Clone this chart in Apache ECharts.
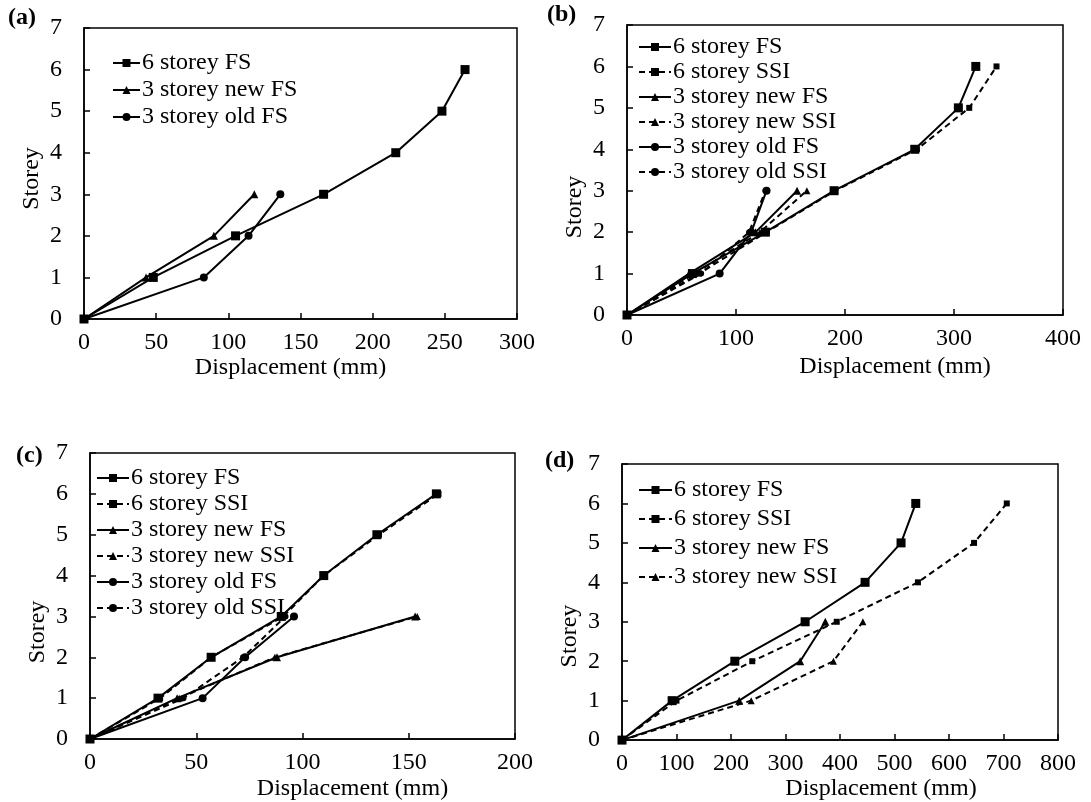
<!DOCTYPE html>
<html>
<head>
<meta charset="utf-8">
<script src="https://cdn.jsdelivr.net/npm/echarts@6/dist/echarts.min.js"></script>
<style>
html,body{margin:0;padding:0;background:#fff;}
#chart{width:1091px;height:802px;}
</style>
</head>
<body>
<div id="chart"></div>
<script>
// ---- data (displacement in mm at each storey level) ----
const storeys6 = [0, 1, 2, 3, 4, 5, 6];
const storeys3 = [0, 1, 2, 3];
const yTicks = [0, 1, 2, 3, 4, 5, 6, 7];

const panelLabels = ['(a)', '(b)', '(c)', '(d)'];
const xAxisTitle = 'Displacement (mm)';
const yAxisTitle = 'Storey';

const a_6FS = [0, 48, 105, 166, 216, 248, 264];
const a_3newFS = [0, 43, 90, 118];
const a_3oldFS = [0, 83, 114, 136];

const b_6FS = [0, 60, 127, 190, 264, 304, 320];
const b_6SSI = [0, 66, 128, 191, 266, 314, 339];
const b_3newFS = [0, 57, 118, 156];
const b_3newSSI = [0, 62, 122, 165];
const b_3oldFS = [0, 85, 114, 128];
const b_3oldSSI = [0, 68, 112, 127];

const c_6FS = [0, 32, 57, 90, 110, 135, 163];
const c_6SSI = [0, 33, 57, 91, 110, 136, 164];
const c_3newFS = [0, 41, 88, 153];
const c_3newSSI = [0, 42, 87, 154];
const c_3oldFS = [0, 53, 73, 96];
const c_3oldSSI = [0, 44, 72, 92];

const d_6FS = [0, 92, 207, 336, 446, 512, 539];
const d_6SSI = [0, 100, 239, 394, 543, 646, 706];
const d_3newFS = [0, 215, 327, 373];
const d_3newSSI = [0, 237, 388, 442];

const xMax = [300, 400, 200, 800];
const xInterval = [50, 100, 50, 100];

// ---- series styling ----
const FONT = '"Liberation Serif", "Times New Roman", serif';
const names = {
  s6FS: '6 storey FS', s6SSI: '6 storey SSI',
  newFS: '3 storey new FS', newSSI: '3 storey new SSI',
  oldFS: '3 storey old FS', oldSSI: '3 storey old SSI'
};
const styles = {
  s6FS: {symbol: 'rect', size: 9, dash: 'solid'},
  s6SSI: {symbol: 'rect', size: 6, dash: [6, 4]},
  newFS: {symbol: 'triangle', size: 8, dash: 'solid'},
  newSSI: {symbol: 'triangle', size: 7, dash: [6, 4]},
  oldFS: {symbol: 'circle', size: 8, dash: 'solid'},
  oldSSI: {symbol: 'circle', size: 6, dash: [6, 4]}
};

function mk(key, xs, ys, idx) {
  const st = styles[key];
  return {
    name: names[key], type: 'line', xAxisIndex: idx, yAxisIndex: idx,
    data: xs.map((x, i) => [x, ys[i]]),
    symbol: st.symbol, symbolSize: st.size, clip: false,
    itemStyle: {color: '#000'},
    lineStyle: {color: '#000', width: 2, type: st.dash},
    animation: false
  };
}

const series = [
  mk('s6FS', a_6FS, storeys6, 0),
  mk('newFS', a_3newFS, storeys3, 0),
  mk('oldFS', a_3oldFS, storeys3, 0),

  mk('s6FS', b_6FS, storeys6, 1),
  mk('s6SSI', b_6SSI, storeys6, 1),
  mk('newFS', b_3newFS, storeys3, 1),
  mk('newSSI', b_3newSSI, storeys3, 1),
  mk('oldFS', b_3oldFS, storeys3, 1),
  mk('oldSSI', b_3oldSSI, storeys3, 1),

  mk('s6FS', c_6FS, storeys6, 2),
  mk('s6SSI', c_6SSI, storeys6, 2),
  mk('newFS', c_3newFS, storeys3, 2),
  mk('newSSI', c_3newSSI, storeys3, 2),
  mk('oldFS', c_3oldFS, storeys3, 2),
  mk('oldSSI', c_3oldSSI, storeys3, 2),

  mk('s6FS', d_6FS, storeys6, 3),
  mk('s6SSI', d_6SSI, storeys6, 3),
  mk('newFS', d_3newFS, storeys3, 3),
  mk('newSSI', d_3newSSI, storeys3, 3)
];

// ---- layout ----
const grids = [
  {left: 84, top: 28, width: 433, height: 291},
  {left: 627, top: 25, width: 436, height: 290},
  {left: 90, top: 453, width: 425, height: 287},
  {left: 622, top: 464, width: 436, height: 278}
];
const xNameGap = [34, 40, 38, 36];
const xNamePad = [[0, 20, 0, 0], [0, 0, 0, 100], [0, 0, 0, 100], [0, 0, 0, 82]];
const yNamePad = [[0, 10, 0, 0], [0, 74, 0, 0], [0, 72, 0, 0], [0, 68, 0, 0]];

const axisLineStyle = {color: '#000', width: 1.5};
const labelStyle = {color: '#000', fontSize: 24, fontFamily: FONT};

const xAxis = grids.map((g, i) => ({
  type: 'value', gridIndex: i, min: 0, max: xMax[i], interval: xInterval[i],
  splitLine: {show: false},
  axisLine: {show: true, lineStyle: axisLineStyle},
  axisTick: {show: true, inside: true, length: 6, lineStyle: axisLineStyle},
  axisLabel: Object.assign({margin: 12}, labelStyle),
  name: xAxisTitle, nameLocation: 'middle', nameGap: xNameGap[i],
  nameTextStyle: Object.assign({padding: xNamePad[i]}, labelStyle)
}));
const yAxis = grids.map((g, i) => ({
  type: 'value', gridIndex: i, min: yTicks[0], max: yTicks[yTicks.length - 1], interval: 1,
  splitLine: {show: false},
  axisLine: {show: true, lineStyle: axisLineStyle},
  axisTick: {show: true, inside: true, length: 6, lineStyle: axisLineStyle},
  axisLabel: Object.assign({margin: 22}, labelStyle),
  name: yAxisTitle, nameLocation: 'middle', nameGap: 40,
  nameTextStyle: Object.assign({padding: yNamePad[i]}, labelStyle)
}));

const legendNames = [
  [names.s6FS, names.newFS, names.oldFS],
  [names.s6FS, names.s6SSI, names.newFS, names.newSSI, names.oldFS, names.oldSSI],
  [names.s6FS, names.s6SSI, names.newFS, names.newSSI, names.oldFS, names.oldSSI],
  [names.s6FS, names.s6SSI, names.newFS, names.newSSI]
];
const legendPos = [
  {left: 112, top: 51, itemWidth: 27, itemGap: 3},
  {left: 638, top: 35, itemWidth: 32, itemGap: 1},
  {left: 96, top: 466, itemWidth: 32, itemGap: 2},
  {left: 638, top: 478, itemWidth: 33, itemGap: 5}
];
const legend = legendNames.map((d, i) => Object.assign({
  data: d, orient: 'vertical', selectedMode: false, itemHeight: 10,
  textStyle: {color: '#000', fontSize: 24, fontFamily: FONT, lineHeight: 24, padding: [0, 0, 0, -3]},
  padding: 0
}, legendPos[i]));

const titlePos = [{left: 8, top: 6}, {left: 547, top: 3}, {left: 16, top: 444}, {left: 545, top: 449}];
const title = panelLabels.map((t, i) => Object.assign({
  text: t, textStyle: {color: '#000', fontSize: 24, fontWeight: 'bold', fontFamily: FONT}, padding: 0
}, titlePos[i]));

const chart = echarts.init(document.getElementById('chart'), null, {renderer: 'canvas'});
chart.setOption({
  backgroundColor: '#fff',
  animation: false,
  title: title,
  legend: legend,
  grid: grids.map(g => Object.assign({show: true, borderColor: '#000', borderWidth: 1.5, backgroundColor: 'transparent'}, g)),
  xAxis: xAxis,
  yAxis: yAxis,
  series: series
});
</script>
</body>
</html>
